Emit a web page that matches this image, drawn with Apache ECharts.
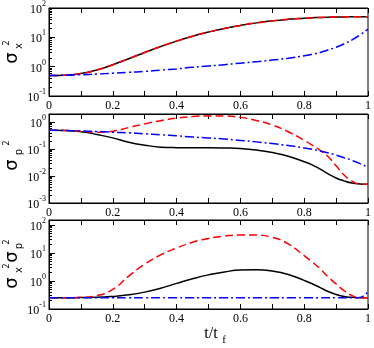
<!DOCTYPE html>
<html>
<head>
<meta charset="utf-8">
<script src="https://cdn.jsdelivr.net/npm/echarts@6/dist/echarts.min.js"></script>
<style>html,body{margin:0;padding:0;background:#fff}#c{width:374px;height:348px}</style>
</head>
<body>
<div id="c"></div>
<script>
// time axis t/t_f
const tVals = [0,0.05,0.1,0.15,0.2,0.25,0.3,0.35,0.4,0.45,0.5,0.55,0.6,0.65,0.7,0.75,0.8,0.825,0.85,0.875,0.9,0.925,0.95,0.975,1];
// panel 1: sigma_x^2
const sx2Black = [0.5,0.51,0.58,0.77,1.16,1.87,3.05,4.86,7.44,10.9,15.1,20.1,25.5,31.1,36.4,41.1,44.9,46.4,47.6,48.6,49.2,49.7,49.9,50,50];
const sx2Red   = [0.5,0.51,0.58,0.77,1.16,1.87,3.05,4.86,7.44,10.9,15.1,20.1,25.5,31.1,36.4,41.1,44.9,46.4,47.6,48.6,49.2,49.7,49.9,50,50];
const sx2Blue  = [0.5,0.51,0.53,0.56,0.6,0.64,0.69,0.76,0.84,0.95,1.05,1.17,1.32,1.48,1.68,1.95,2.35,2.65,3.05,3.7,4.6,6.0,8.2,12,19];
// panel 2: sigma_p^2
const sp2Black = [0.5,0.49,0.44,0.35,0.26,0.18,0.14,0.118,0.113,0.112,0.112,0.11,0.105,0.092,0.074,0.054,0.034,0.026,0.018,0.012,0.0085,0.0066,0.0055,0.0051,0.005];
const sp2Red   = [0.5,0.49,0.46,0.42,0.46,0.63,0.86,1.13,1.4,1.6,1.7,1.68,1.5,1.15,0.78,0.44,0.21,0.14,0.09,0.052,0.024,0.011,0.0065,0.005,0.005];
const sp2Blue  = [0.5,0.49,0.47,0.45,0.42,0.4,0.37,0.34,0.31,0.28,0.26,0.235,0.21,0.185,0.16,0.135,0.11,0.098,0.085,0.072,0.06,0.048,0.038,0.029,0.021];
// panel 3: sigma_x^2 sigma_p^2
const prodBlack = [0.25,0.25,0.255,0.26,0.28,0.32,0.4,0.55,0.82,1.2,1.65,2.1,2.45,2.5,2.25,1.7,1.05,0.8,0.58,0.42,0.33,0.28,0.26,0.25,0.25];
const prodRed   = [0.25,0.25,0.26,0.3,0.5,1.5,4.0,8.5,15,24,33,40,44,43.5,36,21,8,4.8,2.7,1.4,0.78,0.45,0.3,0.25,0.25];
const prodBlue  = [0.25,0.25,0.25,0.25,0.25,0.25,0.25,0.25,0.25,0.25,0.25,0.25,0.25,0.25,0.25,0.25,0.25,0.25,0.25,0.25,0.25,0.25,0.25,0.26,0.42];
// axis ranges and ticks
const yRanges = [[0.1,100],[0.001,2],[0.1,150]];
const xTickLabels = ['0','0.2','0.4','0.6','0.8','1'];
const minorTickVals = [];
[0.0001,0.001,0.01,0.1,1,10,100].forEach(d => { for (let k=2;k<=9;k++) minorTickVals.push(+(d*k).toPrecision(3)); });

const panels = [
  [sx2Black, sx2Red, sx2Blue],
  [sp2Black, sp2Red, sp2Blue],
  [prodBlack, prodRed, prodBlue]
];
const tops = [7, 114, 220];
const SERIF = 'Liberation Serif';

const grid = tops.map(tp => ({left:49, right:4, top:tp, height:89, show:true, borderColor:'#000', borderWidth:1, backgroundColor:'transparent'}));
const xAxis = [], yAxis = [], series = [];
const xFmt = v => { const k = Math.round(v*10); return k % 2 === 0 ? xTickLabels[k/2] : ''; };

tops.forEach((tp, g) => {
  const base = {gridIndex:g, type:'value', min:0, max:1, interval:0.1,
    axisLine:{lineStyle:{color:'#000', width:1}},
    axisTick:{inside:true, length:5, lineStyle:{color:'#000'}},
    splitLine:{show:false}};
  xAxis.push(Object.assign({}, base, {position:'bottom',
    axisLabel:{margin:4, fontFamily:SERIF, fontSize:12, color:'#000', formatter:xFmt}}));
  xAxis.push(Object.assign({}, base, {position:'top', axisLabel:{show:false}}));
  yAxis.push({gridIndex:g, type:'log', logBase:10, min:yRanges[g][0], max:yRanges[g][1], position:'left',
    axisLine:{lineStyle:{color:'#000'}},
    axisTick:{inside:true, length:6, lineStyle:{color:'#000'}},
    splitLine:{show:false},
    axisLabel:{margin:3, showMaxLabel: g===0, color:'#000',
      formatter: v => '{b|10}{s|' + Math.round(Math.log10(v)) + '}',
      rich:{b:{fontFamily:SERIF, fontSize:12, color:'#000', padding:[4,0,0,0]},
            s:{fontFamily:SERIF, fontSize:8, color:'#000', verticalAlign:'top'}}}});
  yAxis.push({gridIndex:g, type:'log', logBase:10, min:yRanges[g][0], max:yRanges[g][1], position:'left',
    axisLine:{show:false}, axisLabel:{show:false}, splitLine:{show:false},
    axisTick:{inside:true, length:3, lineStyle:{color:'#000'},
      customValues: minorTickVals.filter(v => v > yRanges[g][0] && v < yRanges[g][1])}});
  const styles = [
    {color:'#000000', type:'solid'},
    {color:'#ff0000', type:[8,4]},
    {color:'#0000ff', type:[9,3,2,3]}
  ];
  panels[g].forEach((arr, i) => {
    series.push({type:'line', xAxisIndex:2*g, yAxisIndex:2*g, showSymbol:false, smooth:0.5,
      data: tVals.map((t, j) => [t, arr[j]]),
      lineStyle:{color:styles[i].color, width:1.5, type:styles[i].type}, z: 2+i});
  });
});

function rt(x, y, text, size, font) {
  return {type:'text', x:x, y:y, rotation:Math.PI/2,
    style:{text:text, fontSize:size, fontFamily:font, fill:'#000', align:'center', verticalAlign:'middle'}};
}
const SIG = 'DejaVu Sans';
const graphic = [
  rt(12,58,'σ',18,SIG), rt(19,46,'x',10,SIG), rt(7,43,'2',8,SIG),
  rt(12,165,'σ',18,SIG), rt(19,152,'p',10,SIG), rt(7,143,'2',8,SIG),
  rt(12,283,'σ',18,SIG), rt(19,270,'x',10,SIG), rt(7,266,'2',8,SIG),
  rt(12,257,'σ',18,SIG), rt(19,246,'p',10,SIG), rt(7,242,'2',8,SIG),
  {type:'text', x:211, y:334, style:{text:'t/t', fontSize:16, fontFamily:SERIF, fill:'#000', align:'center', verticalAlign:'middle'}},
  {type:'text', x:224, y:340, style:{text:'f', fontSize:11, fontFamily:SERIF, fill:'#000', align:'center', verticalAlign:'middle'}}
];

const chart = echarts.init(document.getElementById('c'), null, {renderer:'canvas'});
chart.setOption({animation:false, backgroundColor:'#fff', grid, xAxis, yAxis, series, graphic});
</script>
</body>
</html>
